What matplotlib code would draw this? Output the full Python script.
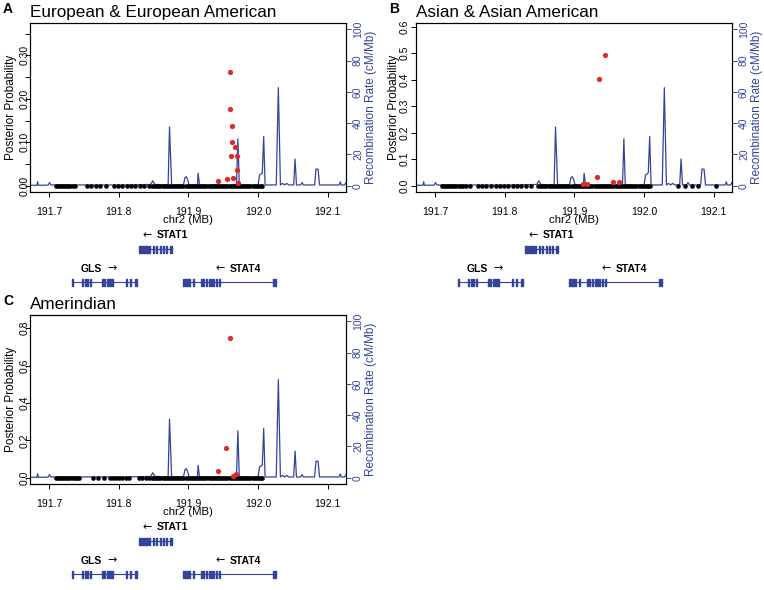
# libraries
import matplotlib
matplotlib.use('Agg')
import matplotlib.pyplot as plt

plt.rcParams['font.family'] = ['Liberation Sans', 'DejaVu Sans']

BLUE = '#33449A'
RED = '#E02A2A'

# recombination rate track (same region in all panels), MB / cM/Mb
rec_pos = [191.672, 191.683, 191.684, 191.685, 191.699, 191.701, 191.703, 191.760, 191.800,
           191.846, 191.849, 191.852, 191.871, 191.873, 191.876, 191.893, 191.895, 191.897,
           191.899, 191.901, 191.913, 191.914, 191.916, 191.969, 191.971, 191.973, 192.000,
           192.002, 192.006, 192.008, 192.010, 192.026, 192.029, 192.032, 192.035, 192.038,
           192.041, 192.044, 192.051, 192.053, 192.055, 192.061, 192.063, 192.065, 192.081,
           192.083, 192.086, 192.088, 192.116, 192.118, 192.119, 192.124, 192.126, 192.130]
rec_rate = [0.3, 0.3, 2.6, 0.3, 0.4, 2.0, 0.5, 0.5, 0.5,
            0.8, 3.2, 0.8, 0.6, 37.5, 0.6, 0.5, 5.0, 5.8,
            4.0, 0.5, 0.5, 8.0, 0.5, 0.5, 30.0, 0.5, 0.5,
            6.8, 8.2, 31.5, 0.5, 0.5, 62.7, 0.5, 1.5, 0.5,
            1.5, 0.5, 0.5, 17.0, 0.5, 0.5, 2.0, 0.5, 0.5,
            10.7, 10.5, 0.5, 0.5, 2.5, 0.5, 0.5, 2.0, 2.0]

# SNP positions (kb past 191,000 kb) with posterior ~0
snp_left_kb = [710, 713, 716, 719, 722, 725, 728, 731, 734, 737]
snp_core_kb = [848, 851, 854, 857, 860, 863, 866, 869, 872, 875, 878, 881, 884, 887, 890,
               893, 896, 899, 902, 905, 908, 911, 914, 917, 920, 923, 926, 929, 932, 935,
               938, 941, 944, 947, 950, 953, 956, 959, 962, 965, 968, 971, 974, 977, 980,
               983, 986, 989, 992, 995, 998, 1001, 1004, 1006]
snp_mid_A = [754, 761, 768, 774, 782, 793, 799, 805, 812, 818, 824, 830, 837, 843]
snp_mid_B = [740, 745, 751, 762, 768, 774, 781, 787, 793, 799, 805, 812, 818, 824, 831, 838, 1008]
snp_right_B = [1049, 1058, 1068, 1077, 1103]
snp_mid_C = [740, 743, 764, 771, 779, 788, 792, 796, 800, 805, 810, 815, 829, 834, 839, 844]

# SNPs with non-negligible posterior probability
red_pos_A = [191.959, 191.959, 191.962, 191.963, 191.967, 191.961, 191.970, 191.970,
             191.943, 191.955, 191.964, 191.971]
red_pp_A = [0.262, 0.177, 0.138, 0.100, 0.088, 0.068, 0.068, 0.037, 0.012, 0.015, 0.017, 0.006]
red_pos_B = [191.944, 191.936, 191.933, 191.955, 191.964, 191.912, 191.918]
red_pp_B = [0.494, 0.401, 0.034, 0.015, 0.013, 0.007, 0.005]
red_pos_C = [191.959, 191.954, 191.943, 191.968, 191.964]
red_pp_C = [0.746, 0.157, 0.034, 0.020, 0.012]

# genes: span and exons (MB)
gls_span = (191.7334, 191.8263)
gls_exons = [(191.7330, 191.7345), (191.7470, 191.7486), (191.7517, 191.7532), (191.7551, 191.7566),
             (191.7589, 191.7604), (191.7755, 191.7770), (191.7789, 191.7804), (191.7827, 191.7842),
             (191.7857, 191.7920), (191.8112, 191.8127), (191.8169, 191.8184), (191.8239, 191.8263)]
stat1_span = (191.8286, 191.8763)
stat1_exons = [(191.8286, 191.8300), (191.8310, 191.8335), (191.8345, 191.8390), (191.8400, 191.8420),
               (191.8430, 191.8453), (191.8493, 191.8508), (191.8541, 191.8556), (191.8589, 191.8604),
               (191.8636, 191.8651), (191.8674, 191.8689), (191.8739, 191.8763)]
stat4_span = (191.8929, 192.0263)
stat4_exons = [(191.8929, 191.9024), (191.9064, 191.9079), (191.9184, 191.9198), (191.9217, 191.9231),
               (191.9256, 191.9270), (191.9293, 191.9307), (191.9327, 191.9341), (191.9360, 191.9374),
               (191.9399, 191.9413), (191.9436, 191.9450), (192.0214, 192.0263)]

# gene names: label, left of name, arrow centre, arrow, row
gene_names = ['STAT1', 'GLS', 'STAT4']
name_x = [191.8549, 191.7453, 191.9600]
arrow_x = [191.8406, 191.7906, 191.9455]
arrows = ['\u2190', '\u2192', '\u2190']
name_row = [13.5, 47, 47]

xticks = [191.7, 191.8, 191.9, 192.0, 192.1]
W, H = 764, 590

fig = plt.figure(figsize=(7.64, 5.90), dpi=100)


def draw_panel(left, top, letter, title, mid_kb, extra_kb, red_pos, red_pp,
               ylim, yticks, ylabels, ylab_off, ypad):
    w, h = 316, 169
    ax = fig.add_axes([left / W, 1 - (top + h) / H, w / W, h / H])
    ax2 = ax.twinx()
    ax.set_zorder(ax2.get_zorder() + 1)
    ax.patch.set_visible(False)

    # recombination rate
    ax2.plot(rec_pos, rec_rate, color=BLUE, lw=0.9)
    ax2.set_ylim(-4, 104)
    ax2.set_yticks([0, 20, 40, 60, 80, 100])
    ax2.set_yticklabels(['0', '20', '40', '60', '80', '100'], rotation=90, va='center')
    ax2.tick_params(axis='y', colors=BLUE, labelsize=7.5, length=3.5, pad=1.5, width=0.7)
    ax2.text(1 + 25 / w, 0.5, 'Recombination Rate (cM/Mb)', color=BLUE, rotation=90,
             ha='center', va='center', fontsize=8.5, transform=ax.transAxes)

    # SNPs
    kb = snp_left_kb + mid_kb + snp_core_kb + extra_kb
    pos = [191 + k / 1000 for k in kb]
    ax.plot(pos, [0] * len(pos), 'o', color='black', ms=3.3, mew=0)
    ax.plot(red_pos, red_pp, 'o', color=RED, ms=3.8, mew=0)

    ax.set_xlim(191.673, 192.126)
    ax.set_ylim(*ylim)
    ax.set_xticks(xticks)
    ax.set_xticklabels(['191.7', '191.8', '191.9', '192.0', '192.1'])
    ax.set_yticks(yticks)
    ax.set_yticklabels(ylabels, rotation=90, va='center')
    ax.tick_params(axis='x', labelsize=7.5, length=3.5, pad=7.5, width=0.7)
    ax.tick_params(axis='y', labelsize=7.5, length=3.5, pad=ypad, width=0.7)
    for a in (ax, ax2):
        for s in a.spines.values():
            s.set_linewidth(0.8)
            s.set_color('black')

    ax.text(-ylab_off / w, 0.5, 'Posterior Probability', rotation=90, ha='center',
            va='center', fontsize=8.5, transform=ax.transAxes)
    ax.text(0.5, -28 / h, 'chr2 (MB)', ha='center', va='center', fontsize=8.2,
            transform=ax.transAxes)
    ax.text(0, 1 + 6 / h, title, ha='left', va='baseline', fontsize=12.3,
            transform=ax.transAxes)
    fig.text((left - 27) / W, 1 - (top - 10) / H, letter, fontsize=10, weight='bold',
             ha='left', va='baseline')

    # gene track below
    gax = fig.add_axes([left / W, 1 - (top + h + 100) / H, w / W, 70 / H])
    gax.set_xlim(191.673, 192.126)
    gax.set_ylim(70, 0)
    gax.axis('off')
    for span, exons, yy in [(stat1_span, stat1_exons, 27), (gls_span, gls_exons, 60),
                            (stat4_span, stat4_exons, 60)]:
        gax.plot(span, [yy, yy], color=BLUE, lw=0.8)
        gax.broken_barh([(s, e - s) for s, e in exons], (yy - 3.5, 7), color=BLUE)
    for name, nx, axx, arr, yy in zip(gene_names, name_x, arrow_x, arrows, name_row):
        gax.text(nx, yy, name, ha='left', va='center', fontsize=7.5, weight='bold')
        gax.text(axx, yy - 0.5, arr, ha='center', va='center', fontsize=8,
                 family='DejaVu Sans')


draw_panel(30, 23, 'A', 'European & European American', snp_mid_A, [], red_pos_A, red_pp_A,
           (-0.0144, 0.3744), [0, 0.05, 0.10, 0.15, 0.20, 0.25, 0.30, 0.35],
           ['0.00', '', '0.10', '', '0.20', '', '0.30', ''], 19, -3.5)
draw_panel(416, 23, 'B', 'Asian & Asian American', snp_mid_B, snp_right_B, red_pos_B, red_pp_B,
           (-0.024, 0.614), [0, 0.1, 0.2, 0.3, 0.4, 0.5, 0.6],
           ['0.0', '0.1', '0.2', '0.3', '0.4', '0.5', '0.6'], 22, 0.8)
draw_panel(30, 315, 'C', 'Amerindian', snp_mid_C, [], red_pos_C, red_pp_C,
           (-0.033, 0.87), [0, 0.2, 0.4, 0.6, 0.8],
           ['0.0', '0.2', '0.4', '0.6', '0.8'], 19, -3.5)

fig.savefig('out.png', dpi=100)
